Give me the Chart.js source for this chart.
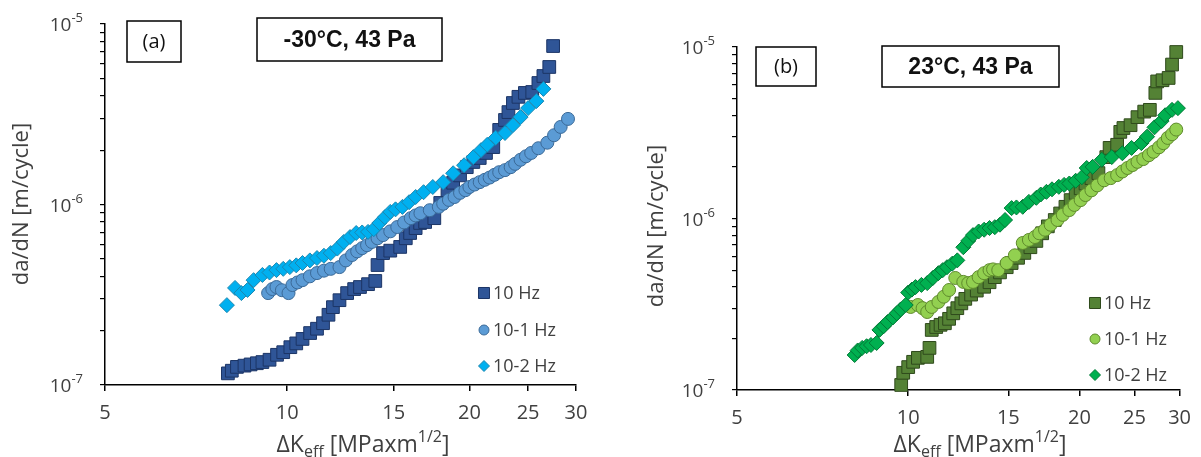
<!DOCTYPE html>
<html>
<head>
<meta charset="utf-8">
<script src="https://cdn.jsdelivr.net/npm/chart.js@4.4.1/dist/chart.umd.min.js"></script>
<style>
  html, body { margin: 0; padding: 0; background: #fff; }
  #wrap { position: relative; width: 1201px; height: 457px; }
  canvas { position: absolute; top: 0; }
  #chartA { left: 0; }
  #chartB { left: 600px; }
</style>
</head>
<body>
<div id="wrap">
  <canvas id="chartA" width="600" height="457"></canvas>
  <canvas id="chartB" width="601" height="457"></canvas>
</div>
<script>
// axis ticks
const xTicks = [5, 10, 15, 20, 25, 30];
const yDecades = [1e-7, 1e-6, 1e-5];
const seriesLabels = ['10 Hz', '10-1 Hz', '10-2 Hz'];

// (a) -30°C, 43 Pa  -- dK_eff [MPa m^1/2] vs da/dN [m/cycle]
const kA_10 = [7.98, 8.1, 8.26, 8.5, 8.7, 8.91, 9.1, 9.35, 9.62, 9.85, 10.12, 10.35, 10.6, 10.91, 11.2, 11.46, 11.7, 11.9, 12.2, 12.56, 12.9, 13.19, 13.6, 13.98, 14.1, 14.4, 14.8, 15.37, 15.7, 15.96, 16.3, 16.58, 16.9, 17.5, 17.9, 18.4, 18.8, 19.3, 19.8, 20.3, 20.8, 21.3, 21.9, 22.4, 22.9, 23.2, 23.6, 24.1, 24.7, 25.4, 26.0, 26.5, 27.1, 27.5];
const vA_10 = [1.16e-7, 1.2e-7, 1.26e-7, 1.28e-7, 1.3e-7, 1.32e-7, 1.34e-7, 1.38e-7, 1.47e-7, 1.52e-7, 1.62e-7, 1.7e-7, 1.8e-7, 1.94e-7, 2.05e-7, 2.2e-7, 2.45e-7, 2.7e-7, 2.95e-7, 3.23e-7, 3.4e-7, 3.49e-7, 3.62e-7, 3.77e-7, 4.62e-7, 5.38e-7, 5.55e-7, 5.82e-7, 6.5e-7, 6.95e-7, 7.4e-7, 7.9e-7, 8.0e-7, 8.4e-7, 1.02e-6, 1.2e-6, 1.32e-6, 1.45e-6, 1.61e-6, 1.72e-6, 1.81e-6, 1.93e-6, 2.08e-6, 2.59e-6, 2.94e-6, 3.25e-6, 3.65e-6, 3.95e-6, 4.15e-6, 4.2e-6, 4.71e-6, 5.15e-6, 5.78e-6, 7.55e-6];

const kA_1 = [9.3, 9.45, 9.6, 9.8, 10.05, 10.2, 10.4, 10.6, 10.9, 11.2, 11.5, 11.8, 12.2, 12.5, 12.8, 13.05, 13.3, 13.55, 13.8, 14.1, 14.4, 14.8, 15.2, 15.6, 16.0, 16.3, 16.6, 17.2, 17.8, 18.1, 18.5, 18.9, 19.3, 19.7, 20.0, 20.4, 20.8, 21.2, 21.6, 22.0, 22.4, 22.9, 23.4, 23.8, 24.3, 24.8, 25.3, 26.0, 26.9, 27.6, 28.3, 29.1];
const vA_1 = [3.23e-7, 3.4e-7, 3.49e-7, 3.35e-7, 3.23e-7, 3.58e-7, 3.7e-7, 3.81e-7, 4.0e-7, 4.17e-7, 4.3e-7, 4.4e-7, 4.5e-7, 4.9e-7, 5.25e-7, 5.5e-7, 5.73e-7, 5.95e-7, 6.2e-7, 6.5e-7, 6.77e-7, 7.1e-7, 7.5e-7, 7.95e-7, 8.4e-7, 8.7e-7, 8.95e-7, 9.3e-7, 9.7e-7, 1.01e-6, 1.06e-6, 1.1e-6, 1.16e-6, 1.2e-6, 1.25e-6, 1.29e-6, 1.33e-6, 1.37e-6, 1.41e-6, 1.46e-6, 1.51e-6, 1.55e-6, 1.61e-6, 1.68e-6, 1.77e-6, 1.85e-6, 1.93e-6, 2.05e-6, 2.2e-6, 2.42e-6, 2.69e-6, 2.98e-6];

const kA_2 = [7.95, 8.2, 8.4, 8.6, 8.8, 9.1, 9.35, 9.6, 9.85, 10.1, 10.35, 10.6, 10.9, 11.2, 11.5, 11.8, 12.1, 12.4, 12.7, 13.0, 13.3, 13.6, 13.9, 14.2, 14.5, 14.8, 15.1, 15.5, 15.9, 16.3, 16.8, 17.4, 18.1, 18.8, 19.6, 20.3, 20.9, 21.4, 22.1, 22.9, 23.6, 24.3, 25.0, 25.8, 26.5];
const vA_2 = [2.77e-7, 3.45e-7, 3.23e-7, 3.36e-7, 3.81e-7, 4.07e-7, 4.2e-7, 4.33e-7, 4.4e-7, 4.5e-7, 4.6e-7, 4.74e-7, 4.9e-7, 5.05e-7, 5.2e-7, 5.38e-7, 5.7e-7, 6.2e-7, 6.6e-7, 6.95e-7, 7.0e-7, 7.05e-7, 7.3e-7, 7.9e-7, 8.5e-7, 9.1e-7, 9.4e-7, 9.7e-7, 1.03e-6, 1.1e-6, 1.17e-6, 1.25e-6, 1.33e-6, 1.49e-6, 1.65e-6, 1.83e-6, 2.0e-6, 2.14e-6, 2.34e-6, 2.49e-6, 2.75e-6, 3.05e-6, 3.42e-6, 3.74e-6, 4.37e-6];

// (b) 23°C, 43 Pa
const kB_10 = [9.72, 9.8, 10.0, 10.2, 10.4, 10.8, 10.9, 11.0, 11.2, 11.4, 11.6, 11.8, 12.0, 12.2, 12.4, 12.6, 12.9, 13.2, 13.6, 13.9, 14.2, 14.5, 14.9, 15.2, 15.6, 16.0, 16.4, 16.8, 17.2, 17.6, 18.1, 18.5, 18.9, 19.3, 19.7, 20.1, 20.5, 21.0, 21.6, 22.3, 22.6, 23.3, 23.6, 23.9, 24.6, 25.3, 26.0, 26.6, 27.2, 27.4, 28.0, 28.7, 29.1, 29.6];
const vB_10 = [1.07e-7, 1.26e-7, 1.36e-7, 1.46e-7, 1.54e-7, 1.56e-7, 1.76e-7, 2.24e-7, 2.33e-7, 2.4e-7, 2.45e-7, 2.6e-7, 2.8e-7, 3.0e-7, 3.2e-7, 3.4e-7, 3.6e-7, 3.8e-7, 4.0e-7, 4.25e-7, 4.55e-7, 4.85e-7, 5.2e-7, 5.5e-7, 5.9e-7, 6.3e-7, 6.8e-7, 7.4e-7, 8.2e-7, 9.0e-7, 9.8e-7, 1.07e-6, 1.17e-6, 1.28e-6, 1.41e-6, 1.5e-6, 1.6e-6, 1.72e-6, 1.84e-6, 2.28e-6, 2.58e-6, 2.69e-6, 3.2e-6, 3.37e-6, 3.5e-6, 3.9e-6, 4.2e-6, 4.3e-6, 5.4e-6, 6.3e-6, 6.4e-6, 6.6e-6, 7.9e-6, 9.35e-6];

const kB_1 = [10.1, 10.4, 10.6, 10.8, 11.0, 11.3, 11.55, 11.8, 12.1, 12.5, 12.75, 13.0, 13.3, 13.6, 13.9, 14.1, 14.4, 14.9, 15.4, 15.9, 16.3, 16.7, 17.0, 17.4, 17.8, 18.3, 18.7, 19.2, 19.6, 20.1, 20.5, 21.0, 21.5, 22.1, 22.7, 23.3, 23.8, 24.3, 24.8, 25.3, 25.9, 26.5, 27.0, 27.6, 28.1, 28.6, 29.1, 29.6];
const vB_1 = [3.05e-7, 3.13e-7, 3.0e-7, 2.85e-7, 3.05e-7, 3.26e-7, 3.5e-7, 3.83e-7, 4.5e-7, 4.27e-7, 4.2e-7, 4.27e-7, 4.55e-7, 4.8e-7, 5.0e-7, 5.05e-7, 5.0e-7, 5.5e-7, 6.1e-7, 7.2e-7, 7.5e-7, 7.8e-7, 8.2e-7, 8.6e-7, 9.2e-7, 9.8e-7, 1.05e-6, 1.12e-6, 1.2e-6, 1.28e-6, 1.37e-6, 1.46e-6, 1.56e-6, 1.67e-6, 1.72e-6, 1.79e-6, 1.88e-6, 1.97e-6, 2.05e-6, 2.14e-6, 2.22e-6, 2.34e-6, 2.45e-6, 2.6e-6, 2.75e-6, 2.95e-6, 3.1e-6, 3.3e-6];

const kB_2 = [8.05, 8.15, 8.3, 8.45, 8.6, 8.8, 8.9, 9.05, 9.2, 9.4, 9.55, 9.7, 9.9, 10.0, 10.15, 10.3, 10.55, 10.8, 11.05, 11.3, 11.5, 11.7, 11.95, 12.2, 12.5, 12.75, 13.0, 13.3, 13.6, 13.9, 14.2, 14.5, 14.8, 15.2, 15.5, 15.9, 16.3, 16.8, 17.1, 17.5, 17.9, 18.4, 18.8, 19.2, 19.7, 20.2, 20.6, 21.1, 21.9, 22.8, 23.8, 24.7, 25.7, 26.3, 27.1, 27.9, 28.3, 29.1, 29.8];
const vB_2 = [1.6e-7, 1.7e-7, 1.76e-7, 1.8e-7, 1.83e-7, 1.88e-7, 2.24e-7, 2.35e-7, 2.49e-7, 2.65e-7, 2.8e-7, 2.95e-7, 3.13e-7, 3.7e-7, 3.85e-7, 3.98e-7, 4.1e-7, 4.2e-7, 4.5e-7, 4.8e-7, 5.0e-7, 5.2e-7, 5.45e-7, 5.7e-7, 6.8e-7, 7.4e-7, 8.0e-7, 8.4e-7, 8.6e-7, 8.8e-7, 8.9e-7, 9.2e-7, 9.8e-7, 1.15e-6, 1.16e-6, 1.17e-6, 1.25e-6, 1.32e-6, 1.38e-6, 1.43e-6, 1.48e-6, 1.53e-6, 1.57e-6, 1.6e-6, 1.66e-6, 1.74e-6, 1.97e-6, 2.0e-6, 2.2e-6, 2.28e-6, 2.4e-6, 2.58e-6, 2.75e-6, 3.0e-6, 3.4e-6, 3.7e-6, 4.0e-6, 4.3e-6, 4.4e-6];

const FONT = '"Open Sans", "DejaVu Sans", sans-serif';
const TXT = '#404040';

const pts = (ks, vs) => ks.map((k, i) => ({ x: k, y: vs[i] }));

// y tick positions: 1..9 x each decade
const yTickValues = [];
yDecades.forEach((d, i) => {
  if (i === yDecades.length - 1) { yTickValues.push(d); return; }
  for (let m = 1; m <= 9; m++) yTickValues.push(m * d);
});

const decor = {
  id: 'decor',
  afterDraw(chart, args, o) {
    const ctx = chart.ctx;
    const ys = chart.scales.y;
    ctx.save();

    // y tick labels 10^n
    ctx.fillStyle = TXT;
    yDecades.forEach(v => {
      const py = ys.getPixelForValue(v);
      const exp = String(Math.round(Math.log10(v)));
      const right = ys.right - 22;
      ctx.font = '13px ' + FONT;
      const ew = ctx.measureText(exp).width;
      ctx.textAlign = 'left';
      ctx.textBaseline = 'alphabetic';
      ctx.fillText(exp, right - ew, py - 2);
      ctx.font = '19px ' + FONT;
      ctx.textAlign = 'right';
      ctx.fillText('10', right - ew, py + 7);
    });

    // boxes
    ctx.strokeStyle = '#000';
    ctx.lineWidth = 1.5;
    const box = (b, text, font) => {
      ctx.fillStyle = '#fff';
      ctx.fillRect(b[0], b[1], b[2], b[3]);
      ctx.strokeRect(b[0], b[1], b[2], b[3]);
      ctx.fillStyle = '#111';
      ctx.font = font;
      ctx.textAlign = 'center';
      ctx.textBaseline = 'middle';
      ctx.fillText(text, b[0] + b[2] / 2, b[1] + b[3] / 2 + 1);
    };
    box(o.tagBox, o.tag, '20px ' + FONT);
    box(o.titleBox, o.title, 'bold 23px "Liberation Sans", Arial, sans-serif');

    // legend
    chart.data.datasets.forEach((ds, i) => {
      const ly = o.legendY[i];
      ctx.fillStyle = ds.backgroundColor;
      ctx.strokeStyle = ds.borderColor;
      ctx.lineWidth = 1;
      Chart.helpers.drawPoint(ctx, { pointStyle: ds.pointStyle, radius: ds.legendRadius, borderWidth: 1, rotation: 0 }, o.legendX, ly);
      ctx.fillStyle = TXT;
      ctx.font = '18px ' + FONT;
      ctx.textAlign = 'left';
      ctx.textBaseline = 'middle';
      ctx.fillText(ds.label, o.legendX + 9, ly + 1);
    });

    // y title
    ctx.save();
    ctx.translate(o.yTitle[0], o.yTitle[1]);
    ctx.rotate(-Math.PI / 2);
    ctx.fillStyle = TXT;
    ctx.font = '22px ' + FONT;
    ctx.textAlign = 'center';
    ctx.textBaseline = 'middle';
    ctx.fillText('da/dN [m/cycle]', 0, 0);
    ctx.restore();

    // x title with subscript / superscript
    const parts = [
      { t: '\u0394K', s: 23, dy: 0 },
      { t: 'eff', s: 16, dy: 5 },
      { t: ' [MPaxm', s: 23, dy: 0 },
      { t: '1/2', s: 16, dy: -10 },
      { t: ']', s: 23, dy: 0 }
    ];
    let total = 0;
    parts.forEach(p => { ctx.font = p.s + 'px ' + FONT; p.w = ctx.measureText(p.t).width; total += p.w; });
    let cx = o.xTitle[0] - total / 2;
    ctx.fillStyle = TXT;
    ctx.textAlign = 'left';
    ctx.textBaseline = 'alphabetic';
    parts.forEach(p => {
      ctx.font = p.s + 'px ' + FONT;
      ctx.fillText(p.t, cx, o.xTitle[1] + p.dy);
      cx += p.w;
    });

    ctx.restore();
  }
};

function makeChart(id, series, styles, lay) {
  const datasets = series.map((s, i) => ({
    label: seriesLabels[i],
    data: pts(s[0], s[1]),
    pointStyle: styles[i].shape,
    pointRadius: styles[i].r,
    legendRadius: styles[i].lr,
    backgroundColor: styles[i].fill,
    borderColor: styles[i].line,
    pointBorderWidth: 1,
    showLine: false,
    clip: false,
    order: 3 - i
  }));
  return new Chart(document.getElementById(id), {
    type: 'scatter',
    data: { datasets },
    options: {
      responsive: false,
      animation: false,
      layout: { padding: { left: 0, right: lay.padRight, top: lay.padTop, bottom: 0 } },
      plugins: {
        legend: { display: false },
        tooltip: { enabled: false },
        decor: lay.decor
      },
      scales: {
        x: {
          type: 'logarithmic',
          min: 5, max: 30,
          afterBuildTicks: s => { s.ticks = xTicks.map(v => ({ value: v })); },
          afterFit: s => { s.height = lay.xHeight; },
          ticks: { autoSkip: false, maxRotation: 0, padding: 10, color: TXT, font: { family: FONT, size: 20 }, callback: v => String(v) },
          grid: { drawOnChartArea: false, drawTicks: true, tickLength: 6, color: '#000', lineWidth: 1.5 },
          border: { display: true, color: '#000', width: 1.5 }
        },
        y: {
          type: 'logarithmic',
          min: 1e-7, max: 1e-5,
          afterBuildTicks: s => { s.ticks = yTickValues.map(v => ({ value: v })); },
          afterFit: s => { s.width = lay.yWidth; },
          ticks: { display: false },
          grid: { drawOnChartArea: false, drawTicks: true, tickLength: 5, color: '#000', lineWidth: 1.2 },
          border: { display: true, color: '#000', width: 1.5 }
        }
      }
    },
    plugins: [decor]
  });
}

makeChart('chartA',
  [[kA_10, vA_10], [kA_1, vA_1], [kA_2, vA_2]],
  [
    { shape: 'rect', r: 9, lr: 7.8, fill: '#2F5597', line: '#1c3566' },
    { shape: 'circle', r: 6.5, lr: 5, fill: '#5B9BD5', line: '#3b6a98' },
    { shape: 'rectRot', r: 7.5, lr: 5.5, fill: '#00B0F0', line: '#1a86b0' }
  ],
  {
    padRight: 24, padTop: 24, xHeight: 72, yWidth: 105,
    decor: {
      tag: '(a)', tagBox: [127, 21, 54, 41],
      title: '-30\u00B0C, 43 Pa', titleBox: [257, 18, 185, 43],
      legendX: 484, legendY: [293, 330, 366],
      yTitle: [22, 204], xTitle: [363, 452]
    }
  });

makeChart('chartB',
  [[kB_10, vB_10], [kB_1, vB_1], [kB_2, vB_2]],
  [
    { shape: 'rect', r: 9, lr: 7.8, fill: '#548235', line: '#2f4a1c' },
    { shape: 'circle', r: 6.5, lr: 5, fill: '#92D050', line: '#5e8a2c' },
    { shape: 'rectRot', r: 7.5, lr: 5.5, fill: '#00B050', line: '#007a36' }
  ],
  {
    padRight: 20, padTop: 47, xHeight: 67, yWidth: 137,
    decor: {
      tag: '(b)', tagBox: [156, 47, 60, 39],
      title: '23\u00B0C, 43 Pa', titleBox: [282, 46, 177, 41],
      legendX: 495, legendY: [303, 339, 375],
      yTitle: [57, 226], xTitle: [380, 452]
    }
  });
</script>
</body>
</html>
